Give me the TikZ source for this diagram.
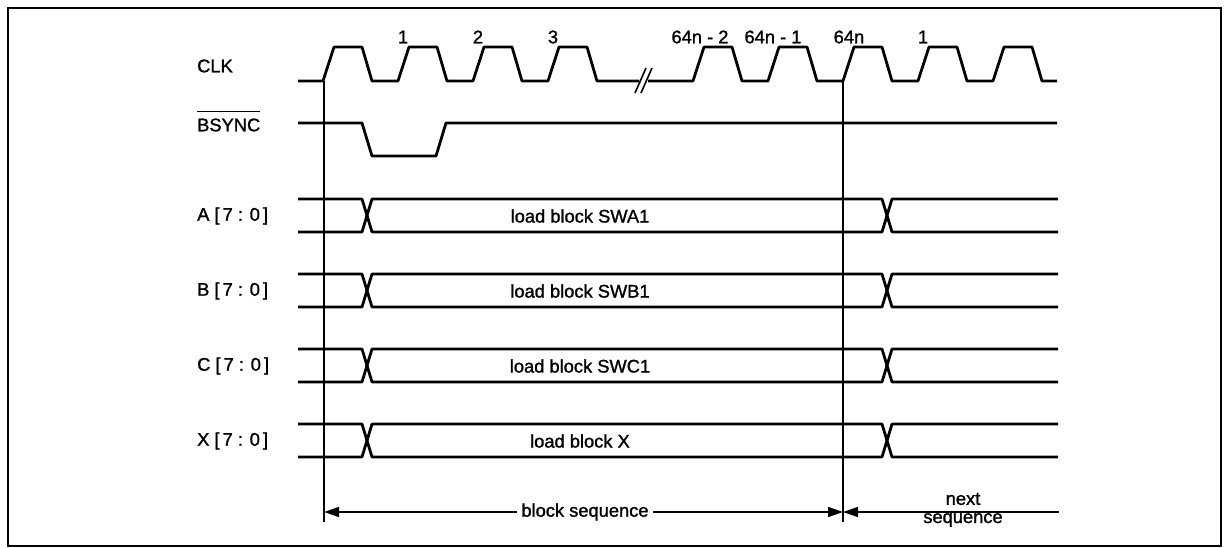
\documentclass[tikz,border=0pt]{standalone}
\usepackage{fontspec}
\setmainfont{Liberation Sans}
\newfontfamily\diagfont{Liberation Sans}[FakeBold=1.3]
\usetikzlibrary{arrows.meta}
\begin{document}
\begin{tikzpicture}[x=1pt,y=-1pt,
  sig/.style={line width=2.8pt, line join=round},
  guide/.style={line width=1.1pt},
  lbl/.style={font=\diagfont\fontsize{18.3}{21}\selectfont, inner sep=0pt, anchor=west},
  txt/.style={font=\diagfont\fontsize{18.3}{21}\selectfont, inner sep=0pt},
  dimline/.style={line width=1.5pt},
  tipend/.style={-{Triangle[length=15pt,width=10pt]}}
]
\useasboundingbox (0,0) rectangle (1228,548);
\draw[line width=2.4pt] (8,8) rectangle (1221,546);

% CLK
\node[lbl] (clk) at (197,66) {CLK};
\draw[sig] (298,81) \foreach \t in {323,398,473,548}{ -- (\t,81) -- (\t+11,47) -- (\t+39,47) -- (\t+49,81)} -- (639,81);
\draw[sig] (648,81) \foreach \t in {693,768,843,918,993}{ -- (\t,81) -- (\t+11,47) -- (\t+39,47) -- (\t+49,81)} -- (1057,81);
\draw[line width=1.6pt] (635,93) -- (646,68);
\draw[line width=1.6pt] (641,93) -- (652,68);
\node[txt] (n1) at (403,37) {1};
\node[txt] (n2) at (478,37) {2};
\node[txt] (n3) at (553,37) {3};
\node[txt] (n4) at (700,37) {64n - 2};
\node[txt] (n5) at (773,37) {64n - 1};
\node[txt] (n6) at (849,37) {64n};
\node[txt] (n7) at (923,37) {1};

% BSYNC
\node[lbl] (bsync) at (197,125) {BSYNC};
\draw[line width=1.3pt] ([yshift=6.5pt]bsync.north west) -- ([yshift=6.5pt]bsync.north east);
\draw[sig] (298,123) -- (362,123) -- (372,156) -- (436,156) -- (446,123) -- (1057,123);

% buses
\foreach \y/\nm/\lab/\blk in {199/a/A/SWA1, 274/b/B/SWB1, 349/c/C/SWC1, 424/x/X/X}{
  \draw[sig] (298,\y) -- (362,\y) -- (372,\y+33) -- (882,\y+33) -- (892,\y) -- (1058,\y);
  \draw[sig] (298,\y+33) -- (362,\y+33) -- (372,\y) -- (882,\y) -- (892,\y+33) -- (1058,\y+33);
  \node[lbl] (l\nm) at (197,\y+17) {\lab\ [\,7 : 0\,]};
  \node[txt] (t\nm) at (580,\y+17) {load block \blk};
}

% guides
\coordinate (s0) at (324,81);
\coordinate (e0) at (324,522);
\coordinate (s1) at (843,81);
\coordinate (e1) at (843,522);
\draw[guide] (s0) -- (e0);
\draw[guide] (s1) -- (e1);

% sequence arrows
\coordinate (a0) at (324,512);
\coordinate (a1) at (843,512);
\coordinate (a2) at (1059,512);
\node[txt, inner xsep=4pt] (bs) at (585,512) {block sequence};
\draw[dimline, tipend] (bs.west) -- (a0);
\draw[dimline, tipend] (bs.east) -- (a1);
\draw[dimline, tipend] (a2) -- (a1);
\node[txt] (nx1) at (963,499) {next};
\node[txt] (nx2) at (963,520) {sequence};
\end{tikzpicture}
\end{document}
